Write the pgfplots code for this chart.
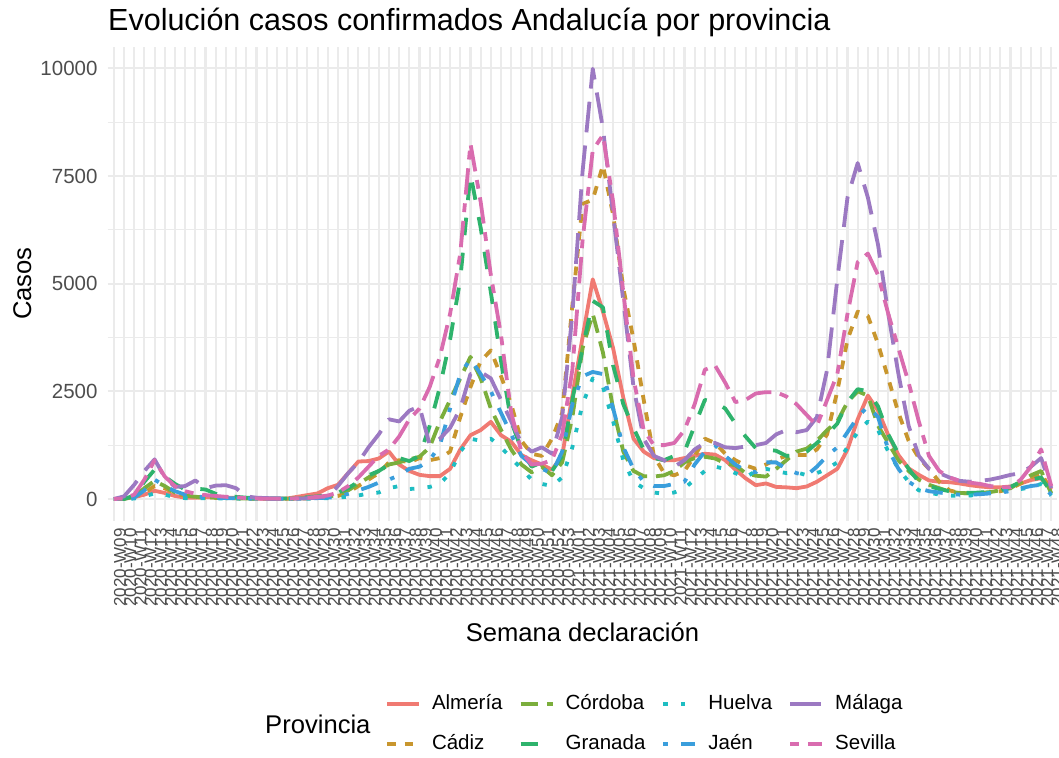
\documentclass[border=0pt]{standalone}
\usepackage{fontspec}
\setmainfont{Liberation Sans}
\usepackage{pgfplots}
\pgfplotsset{compat=1.18}
\usepackage{pgfplotstable}

\definecolor{cAlm}{HTML}{F07A72}
\definecolor{cCad}{HTML}{C8962E}
\definecolor{cCor}{HTML}{7BAE3C}
\definecolor{cGra}{HTML}{2EB36C}
\definecolor{cHue}{HTML}{1EBDC2}
\definecolor{cJae}{HTML}{3A9EDC}
\definecolor{cMal}{HTML}{9C79C2}
\definecolor{cSev}{HTML}{D96CAF}
\definecolor{grid92}{HTML}{EBEBEB}
\definecolor{grey30}{HTML}{4D4D4D}

\pgfplotstableread{
i A C D G H J M S
0 0 0 0 0 0 0 0 0
1 10 5 0 0 0 0 60 10
2 40 50 50 80 10 30 330 100
3 100 150 250 400 60 200 650 450
4 190 300 420 680 130 450 920 900
5 140 250 300 520 100 300 500 520
6 70 130 150 350 40 180 280 300
7 30 70 80 220 20 100 300 180
8 30 40 50 240 20 60 430 120
9 40 30 40 220 15 40 250 90
10 35 25 30 120 10 30 310 70
11 30 20 20 80 10 20 320 50
12 25 15 15 50 10 15 250 40
13 20 10 10 30 5 10 60 20
14 10 5 5 20 5 5 30 10
15 5 5 5 10 5 5 20 5
16 5 5 5 10 5 5 15 5
17 10 5 5 10 5 5 15 5
18 50 10 10 20 5 5 10 15
19 90 15 20 40 5 10 15 30
20 130 25 30 60 10 20 30 50
21 250 40 50 90 20 30 60 80
22 330 70 100 150 30 50 300 150
23 600 150 200 250 55 120 600 300
24 870 300 350 400 80 200 850 500
25 880 450 500 550 130 280 1200 750
26 940 600 650 650 150 380 1500 1000
27 1100 850 800 800 250 450 1850 1150
28 800 900 850 950 300 550 1800 1450
29 650 850 920 880 230 700 2050 1850
30 560 950 980 1000 250 750 2150 2100
31 530 900 1200 1700 280 900 1250 2600
32 530 950 1800 2600 350 1250 1400 3300
33 700 1100 2300 3700 600 2100 1650 4300
34 1150 1900 2800 5100 1100 2900 2100 5700
35 1480 2600 3300 7550 1400 3250 2900 8250
36 1600 3200 2800 6300 1350 2900 2950 6900
37 1790 3450 2100 4800 1400 2500 2800 5200
38 1480 2850 1600 3200 1200 2000 2300 3800
39 1330 2200 1150 1800 950 1500 1800 2000
40 1020 1350 800 1150 700 1000 1300 1100
41 900 1050 620 750 450 800 1100 800
42 800 1000 750 850 350 700 1200 820
43 680 1400 550 650 300 600 1050 900
44 1000 2000 850 1000 500 1100 1900 1500
45 2400 4500 1900 2300 1200 2200 4300 3000
46 3750 6850 3500 3500 2200 2850 7600 6000
47 5100 6950 4300 4600 2800 2950 9990 8100
48 4350 7750 3400 4450 2600 2900 8600 8450
49 3500 6600 2100 3100 1800 2100 6600 6900
50 2350 4900 1100 2200 900 1200 4600 4800
51 1400 3700 650 1650 400 700 2600 2800
52 1100 2300 530 1150 250 400 1400 1600
53 950 1000 520 950 150 300 1000 1250
54 900 600 550 900 120 300 900 1250
55 900 550 650 1000 150 350 750 1300
56 950 650 850 1100 250 400 900 1600
57 1000 1000 950 1700 450 800 1150 2200
58 1050 1400 980 2300 650 1100 1300 3000
59 1030 1300 940 2250 750 1250 1300 3100
60 900 1050 830 2100 700 1000 1200 2700
61 680 900 780 1750 600 800 1180 2250
62 480 780 600 1450 500 650 1220 2300
63 320 700 540 1180 650 620 1250 2450
64 360 800 520 1150 700 850 1300 2480
65 280 920 700 1120 650 850 1500 2480
66 270 1000 900 1000 600 700 1600 2380
67 250 1020 1100 1020 620 600 1550 2200
68 290 1020 1170 1100 550 550 1600 1950
69 400 1150 1350 1300 600 750 1900 1700
70 550 1500 1600 1500 700 1000 3000 2300
71 700 2500 1800 1750 850 1200 5100 2900
72 1150 3700 2250 2250 1200 1550 7000 4300
73 1850 4350 2500 2550 1550 1900 7800 5500
74 2400 4250 2400 2500 1800 2150 7000 5700
75 2050 3600 1700 2150 1600 1900 5900 5200
76 1480 2800 1300 1500 1100 1150 4300 4300
77 1020 2000 900 1050 700 700 2900 3500
78 710 1350 650 700 400 400 1700 2700
79 560 950 450 400 200 250 1000 1800
80 430 700 330 300 150 180 700 1000
81 400 400 250 230 100 150 600 650
82 390 200 170 180 80 120 500 500
83 360 140 140 150 70 100 420 420
84 320 130 130 140 80 100 400 380
85 290 130 140 150 100 110 420 350
86 270 150 160 170 150 130 450 300
87 270 180 200 200 180 150 500 270
88 290 240 250 280 200 180 560 270
89 360 360 400 400 230 250 600 450
90 440 500 550 450 270 300 750 750
91 480 600 650 500 350 330 950 1150
92 210 200 130 150 80 100 250 300
}\data

\tikzset{
  lsAlm/.style={cAlm, solid},
  lsCad/.style={cCad, dash pattern=on 8.8bp off 8.8bp},
  lsCor/.style={cCor, dash pattern=on 17.6bp off 8.8bp},
  lsGra/.style={cGra, dash pattern=on 17.6bp off 17.6bp},
  lsHue/.style={cHue, dash pattern=on 4.4bp off 13.2bp},
  lsJae/.style={cJae, dash pattern=on 4.4bp off 13.2bp on 17.6bp off 13.2bp},
  lsMal/.style={cMal, dash pattern=on 30.8bp off 13.2bp},
  lsSev/.style={cSev, dash pattern=on 8.8bp off 8.8bp on 26.4bp off 8.8bp},
}

\begin{document}
\begin{tikzpicture}
\useasboundingbox (0bp,0bp) rectangle (1059bp,758bp);
\begin{axis}[
  at={(107.7bp,237.5bp)}, anchor=south west,
  scale only axis, width=949.7bp, height=473.7bp,
  xmin=-0.6, xmax=92.6, ymin=-500, ymax=10500,
  scaled y ticks=false, scaled x ticks=false,
  axis line style={draw=none},
  major tick length=0pt, minor tick length=0pt,
  xmajorgrids, ymajorgrids, yminorgrids,
  major grid style={color=grid92, line width=2.1bp},
  minor grid style={color=grid92, line width=1.1bp},
  xtick={0,...,92},
  xticklabels={2020-W09,2020-W10,2020-W11,2020-W12,2020-W13,2020-W14,2020-W15,2020-W16,2020-W17,2020-W18,2020-W19,2020-W20,2020-W21,2020-W22,2020-W23,2020-W24,2020-W25,2020-W26,2020-W27,2020-W28,2020-W29,2020-W30,2020-W31,2020-W32,2020-W33,2020-W34,2020-W35,2020-W36,2020-W37,2020-W38,2020-W39,2020-W40,2020-W41,2020-W42,2020-W43,2020-W44,2020-W45,2020-W46,2020-W47,2020-W48,2020-W49,2020-W50,2020-W51,2020-W52,2020-W53,2021-W01,2021-W02,2021-W03,2021-W04,2021-W05,2021-W06,2021-W07,2021-W08,2021-W09,2021-W10,2021-W11,2021-W12,2021-W13,2021-W14,2021-W15,2021-W16,2021-W17,2021-W18,2021-W19,2021-W20,2021-W21,2021-W22,2021-W23,2021-W24,2021-W25,2021-W26,2021-W27,2021-W28,2021-W29,2021-W30,2021-W31,2021-W32,2021-W33,2021-W34,2021-W35,2021-W36,2021-W37,2021-W38,2021-W39,2021-W40,2021-W41,2021-W42,2021-W43,2021-W44,2021-W45,2021-W46,2021-W47,2021-W48},
  ytick={0,2500,5000,7500,10000},
  yticklabels={0,2500,5000,7500,10000},
  minor ytick={1250,3750,6250,8750},
  yticklabel style={font=\fontsize{20.5bp}{24bp}\selectfont, color=grey30, anchor=east, inner sep=0pt, xshift=-10bp},
  xticklabel style={font=\fontsize{17bp}{20bp}\selectfont, color=grey30, yshift=-7.5bp, rotate=90, anchor=north east, inner sep=0pt},
  legend style={at={(axis description cs:0.2899,-0.3673)}, anchor=north west,
    draw=none, fill=none, inner sep=0pt, outer sep=0pt,
    font=\fontsize{20.5bp}{24bp}\selectfont,
    nodes={inner sep=0pt, text height=15bp, text depth=4bp},
    /tikz/every odd column/.style={column sep=9bp},
    /tikz/every even column/.style={column sep=14bp},
    row sep=21bp},
  legend columns=4,
  legend cell align=left,
  legend image code/.code={\path[draw=none,fill=none] (0bp,-9.5bp) rectangle (40bp,9.5bp); \draw[#1] (4bp,0bp) -- (36bp,0bp);},
  every axis plot/.append style={line width=3.8bp, line join=round, line cap=butt},
]
\addplot[lsAlm, forget plot] table[x=i,y=A] {\data};
\addplot[lsCad, forget plot] table[x=i,y=C] {\data};
\addplot[lsCor, forget plot] table[x=i,y=D] {\data};
\addplot[lsGra, forget plot] table[x=i,y=G] {\data};
\addplot[lsHue, forget plot] table[x=i,y=H] {\data};
\addplot[lsJae, forget plot] table[x=i,y=J] {\data};
\addplot[lsMal, forget plot] table[x=i,y=M] {\data};
\addplot[lsSev, forget plot] table[x=i,y=S] {\data};

\addlegendimage{lsAlm, line width=3.8bp}
\addlegendentry{Almería}
\addlegendimage{lsCor, line width=3.8bp}
\addlegendentry{Córdoba}
\addlegendimage{lsHue, line width=3.8bp}
\addlegendentry{Huelva}
\addlegendimage{lsMal, line width=3.8bp}
\addlegendentry{Málaga}
\addlegendimage{lsCad, line width=3.8bp}
\addlegendentry{Cádiz}
\addlegendimage{lsGra, line width=3.8bp}
\addlegendentry{Granada}
\addlegendimage{lsJae, line width=3.8bp}
\addlegendentry{Jaén}
\addlegendimage{lsSev, line width=3.8bp}
\addlegendentry{Sevilla}
\end{axis}
\node[anchor=base west, inner sep=0pt, font=\fontsize{30.5bp}{36bp}\selectfont] at (108bp,727bp) {Evolución casos confirmados Andalucía por provincia};
\node[anchor=base, rotate=90, inner sep=0pt, font=\fontsize{25.6bp}{30bp}\selectfont] at (31bp,474.4bp) {Casos};
\node[anchor=base, inner sep=0pt, font=\fontsize{25.6bp}{30bp}\selectfont] at (582.5bp,116bp) {Semana declaración};
\node[anchor=west, inner sep=0pt, font=\fontsize{25.6bp}{30bp}\selectfont] at (265bp,34bp) {Provincia};
\end{tikzpicture}
\end{document}
